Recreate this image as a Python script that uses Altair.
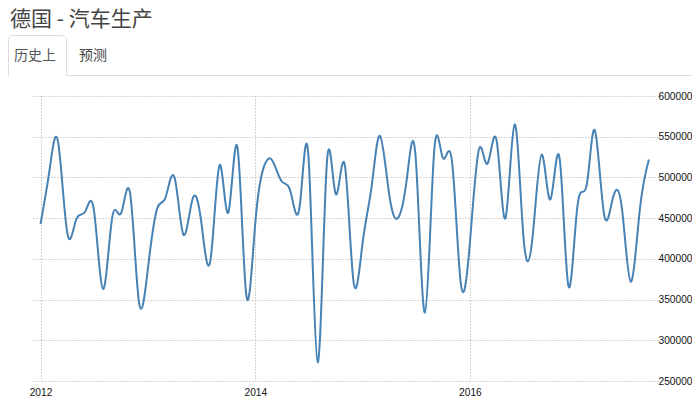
import pandas as pd
import altair as alt

# Monthly car production, Jan 2012 - Sep 2017
production = [
    443000, 510000, 543000, 432000, 448000, 458000, 459000, 363000, 451000, 456000, 480000, 347000,
    390000, 462000, 475000, 500000, 430000, 473000, 445000, 398000, 515000, 457000, 537000, 356000,
    445000, 515000, 520000, 495000, 482000, 465000, 524000, 273000, 516000, 480000, 516000, 372000,
    420000, 490000, 551000, 480000, 450000, 500000, 522000, 334000, 530000, 524000, 520000, 370000,
    420000, 535000, 517000, 545000, 450000, 565000, 428000, 426000, 528000, 473000, 524000, 367000,
    465000, 490000, 558000, 456000, 474000, 463000, 372000, 460000, 522000,
]
months = pd.date_range("2012-01-01", periods=len(production), freq="MS")
year_ticks = ["2012-01-01T00:00:00", "2014-01-01T00:00:00", "2016-01-01T00:00:00"]
value_ticks = [250000, 300000, 350000, 400000, 450000, 500000, 550000, 600000]

page_title = "德国 - 汽车生产"
tab_history = "历史上"
tab_forecast = "预测"

df = pd.DataFrame({"month": months, "production": production})
one_row = pd.DataFrame({"row": [0]})

# The curve, with its grid and the axes
line = (
    alt.Chart(df)
    .mark_line(color="#4682b4", strokeWidth=2, interpolate="natural")
    .encode(
        x=alt.X(
            "month:T",
            scale=alt.Scale(domain=["2011-12-03T00:00:00", "2017-10-02T00:00:00"]),
            axis=alt.Axis(
                title=None, values=year_ticks, format="%Y", domain=False, ticks=False,
                labelFont="Liberation Sans", labelFontSize=10.2, labelColor="#111111",
                labelPadding=6, labelAngle=0, labelFlush=False,
                grid=True, gridColor="#a8a8a8", gridDash=[1, 2],
            ),
        ),
        y=alt.Y(
            "production:Q",
            scale=alt.Scale(domain=[250000, 600000]),
            axis=alt.Axis(
                title=None, orient="right", values=value_ticks, format="d", domain=False, ticks=False,
                labelFont="Liberation Sans", labelFontSize=10.2, labelColor="#111111",
                labelPadding=0, grid=True, gridColor="#a8a8a8", gridDash=[1, 2],
            ),
        ),
    )
)

# Page heading and the tabs above the chart
heading = alt.Chart(one_row).mark_text(
    text=page_title, font="Noto Sans CJK SC", fontSize=21, color="#444444", align="left", baseline="middle"
).encode(x=alt.value(-22), y=alt.value(-76))

tab_box = alt.Chart(one_row).mark_rect(
    fill="white", stroke="#dddddd", cornerRadiusTopLeft=4, cornerRadiusTopRight=4
).encode(x=alt.value(-23.5), x2=alt.value(34.5), y=alt.value(-60.5), y2=alt.value(-20.5))

tab_line = alt.Chart(one_row).mark_rule(color="#dddddd").encode(
    x=alt.value(35), x2=alt.value(660), y=alt.value(-20.5)
)
tab_gap = alt.Chart(one_row).mark_rule(color="white").encode(
    x=alt.value(-23), x2=alt.value(34), y=alt.value(-20.5)
)

history_label = alt.Chart(one_row).mark_text(
    text=tab_history, font="Noto Sans CJK SC", fontSize=14, color="#555555", align="left", baseline="middle"
).encode(x=alt.value(-18), y=alt.value(-40))

forecast_label = alt.Chart(one_row).mark_text(
    text=tab_forecast, font="Noto Sans CJK SC", fontSize=14, color="#444444", align="left", baseline="middle"
).encode(x=alt.value(47), y=alt.value(-40))

chart = (
    alt.layer(line, heading, tab_box, tab_line, tab_gap, history_label, forecast_label)
    .properties(
        width=626,
        height=285,
        padding={"left": 24, "top": 88, "right": 34, "bottom": 20},
        autosize=alt.AutoSizeParams(type="none"),
    )
    .configure_view(stroke=None)
)

chart.save("out.html", embed_options={"renderer": "svg", "actions": False})
